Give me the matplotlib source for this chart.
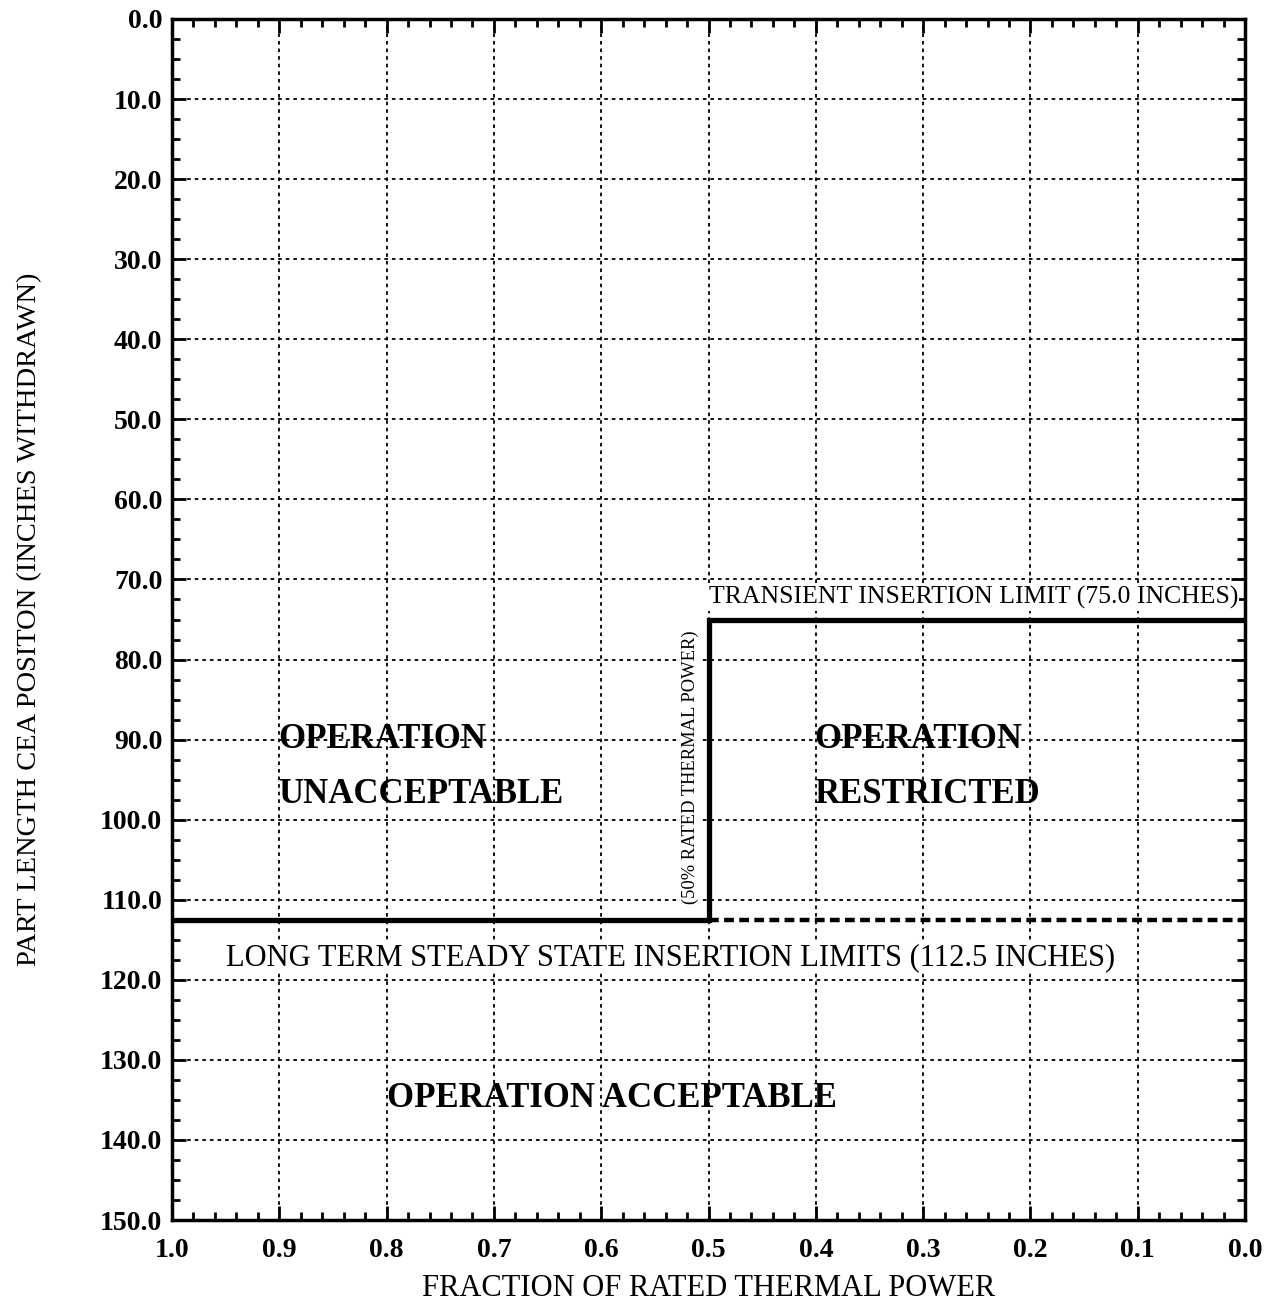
import matplotlib.pyplot as plt
from matplotlib.ticker import MultipleLocator, FormatStrFormatter

plt.rcParams['font.family'] = ['Liberation Serif', 'DejaVu Serif']

# limit curve (fraction of rated thermal power, inches withdrawn)
limit_power = [1.0, 0.5, 0.5, 0.0]
limit_pos = [112.5, 112.5, 75.0, 75.0]
steady_power = [0.5, 0.0]
steady_pos = [112.5, 112.5]

fig = plt.figure(figsize=(12.75, 13.06), dpi=100)
ax = fig.add_axes([0.1349, 0.0658, 0.8416, 0.9197])

ax.plot(limit_power, limit_pos, color='black', lw=3.8, solid_joinstyle='miter', zorder=3)
ax.plot(steady_power, steady_pos, color='black', lw=3.2, ls=(0, (2.2, 1.2)), zorder=3)

ax.set_xlim(1.0, 0.0)
ax.set_ylim(150.0, 0.0)
ax.xaxis.set_major_locator(MultipleLocator(0.1))
ax.xaxis.set_minor_locator(MultipleLocator(0.02))
ax.yaxis.set_major_locator(MultipleLocator(10))
ax.yaxis.set_minor_locator(MultipleLocator(2.5))
ax.xaxis.set_major_formatter(FormatStrFormatter('%.1f'))
ax.yaxis.set_major_formatter(FormatStrFormatter('%.1f'))

ax.tick_params(which='both', direction='in', top=True, right=True, width=2, colors='black')
ax.tick_params(which='major', length=10, labelsize=20, pad=7)
ax.tick_params(axis='x', which='major', pad=13)
ax.tick_params(which='minor', length=6)
for lab in ax.get_xticklabels() + ax.get_yticklabels():
    lab.set_fontweight('bold')
for s in ax.spines.values():
    s.set_linewidth(2.5)

ax.grid(True, which='major', color='black', ls=(0, (2, 2.2)), lw=1.3)

ax.set_xlabel('FRACTION OF RATED THERMAL POWER', fontsize=22, labelpad=8)
ax.set_ylabel('PART LENGTH CEA POSITON (INCHES WITHDRAWN)', fontsize=20.5)
ax.yaxis.set_label_coords(-0.121, 0.5)

bbox = dict(facecolor='white', edgecolor='none', pad=1)
ax.text(0.5, 72.3, 'TRANSIENT INSERTION LIMIT (75.0 INCHES)', fontsize=18.5,
        ha='left', va='center', bbox=bbox)
ax.text(0.95, 117.2, 'LONG TERM STEADY STATE INSERTION LIMITS (112.5 INCHES)', fontsize=22,
        ha='left', va='center', bbox=bbox)
ax.text(0.517, 93.5, '(50% RATED THERMAL POWER)', fontsize=13.3, rotation=90,
        ha='center', va='center', bbox=bbox)
ax.text(0.901, 90.0, 'OPERATION', fontsize=25, fontweight='bold', ha='left', va='center')
ax.text(0.901, 96.9, 'UNACCEPTABLE', fontsize=25, fontweight='bold', ha='left', va='center')
ax.text(0.401, 90.0, 'OPERATION', fontsize=25, fontweight='bold', ha='left', va='center')
ax.text(0.401, 96.9, 'RESTRICTED', fontsize=25, fontweight='bold', ha='left', va='center')
ax.text(0.80, 134.8, 'OPERATION ACCEPTABLE', fontsize=25, fontweight='bold', ha='left', va='center')

fig.savefig('out.png', dpi=100)
